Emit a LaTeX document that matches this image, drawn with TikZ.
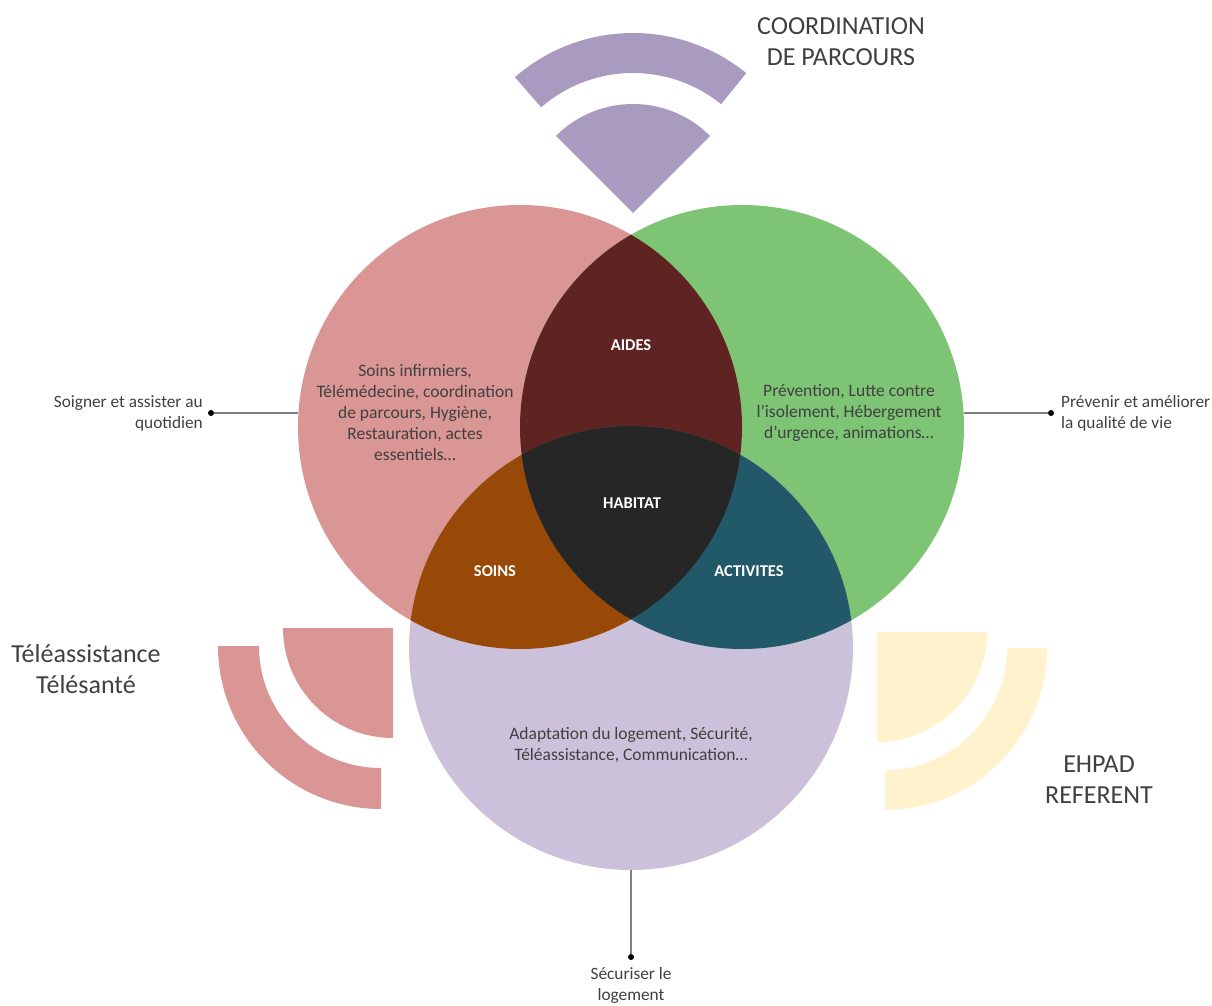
\documentclass[tikz,border=0pt]{standalone}
\usepackage{fontspec}
\setmainfont{Carlito}
\usetikzlibrary{calc}
\definecolor{redC}{HTML}{D99694}
\definecolor{greenC}{HTML}{7DC474}
\definecolor{purpleC}{HTML}{CCC1DA}
\definecolor{iconP}{HTML}{A99AC0}
\definecolor{iconY}{HTML}{FFF2CC}
\definecolor{aidesC}{HTML}{5F2421}
\definecolor{soinsC}{HTML}{984807}
\definecolor{actC}{HTML}{215968}
\definecolor{habC}{HTML}{262626}
\definecolor{txt}{HTML}{404040}
\definecolor{lineC}{HTML}{7F7F7F}
\tikzset{
  big/.style={font=\fontsize{26}{31}\selectfont, text=txt, align=center, inner sep=0},
  body/.style={font=\fontsize{17.5}{21}\selectfont, text=txt, align=center, inner sep=0},
  lbl/.style={font=\fontsize{17.3}{21}\selectfont, text=txt, inner sep=0},
  zone/.style={font=\bfseries\fontsize{16.5}{18}\selectfont, text=white, inner sep=0},
  link/.style={draw=lineC, line width=2pt},
  pin/.style={circle, fill=black, inner sep=0, minimum size=6pt},
  disc/.style={circle, minimum size=444pt, inner sep=0},
}
\begin{document}
\begin{tikzpicture}[x=1pt,y=1pt]
\useasboundingbox (0,0) rectangle (1212,1005);

% the three circles
\node[disc, fill=redC] (red) at (520,578) {};
\node[disc, fill=greenC] (green) at (742,578) {};
\node[disc, fill=purpleC] (purple) at (631,357) {};

% overlaps
\begin{scope}
  \clip (520,578) circle[radius=222];
  \fill[aidesC] (742,578) circle[radius=222];
  \fill[soinsC] (631,357) circle[radius=222];
\end{scope}
\begin{scope}
  \clip (742,578) circle[radius=222];
  \fill[actC] (631,357) circle[radius=222];
  \clip (520,578) circle[radius=222];
  \fill[habC] (631,357) circle[radius=222];
\end{scope}

% top signal icon
\coordinate (ct) at (633,792);
\fill[iconP] (ct) -- ($(ct)+(45:109)$) arc[start angle=45,end angle=135,radius=109] -- cycle;
\fill[iconP] ($(ct)+(51:180)$) arc[start angle=51,end angle=131,radius=180]
  -- ($(ct)+(131:140)$) arc[start angle=131,end angle=51,radius=140] -- cycle;

% left signal icon
\coordinate (cl1) at (393,377);
\coordinate (cl2) at (381,359);
\fill[redC] (cl1) -- ($(cl1)+(180:110)$) arc[start angle=180,end angle=270,radius=110] -- cycle;
\fill[redC] ($(cl2)+(180:163)$) arc[start angle=180,end angle=270,radius=163]
  -- ($(cl2)+(270:122)$) arc[start angle=270,end angle=180,radius=122] -- cycle;

% right signal icon
\coordinate (cr1) at (877,373);
\coordinate (cr2) at (885,357);
\fill[iconY] (cr1) -- ($(cr1)+(270:110)$) arc[start angle=270,end angle=360,radius=110] -- cycle;
\fill[iconY] ($(cr2)+(270:162)$) arc[start angle=270,end angle=360,radius=162]
  -- ($(cr2)+(0:122)$) arc[start angle=360,end angle=270,radius=122] -- cycle;

% connectors
\node[pin] (dl) at (211,592) {};
\node[pin] (dr) at (1051,592) {};
\node[pin] (db) at (631,48) {};
\coordinate (el) at (dl -| red.west);
\coordinate (er) at (dr -| green.east);
\draw[link] (dl) -- (el);
\draw[link] (er) -- (dr);
\draw[link] (purple.south) -- (db);

% zone titles
\node[zone] (aides) at (631,660) {AIDES};
\node[zone] (habitat) at (632,502) {HABITAT};
\node[zone] (soins) at (495,434) {SOINS};
\node[zone] (activites) at (749,434) {ACTIVITES};

% circle contents
\node[body] (tred) at (415,592) {Soins infirmiers,\\Télémédecine, coordination\\de parcours, Hygiène,\\Restauration, actes\\essentiels…};
\node[body] (tgreen) at (849,592) {Prévention, Lutte contre\\l’isolement, Hébergement\\d’urgence, animations…};
\node[body] (tpurple) at (631,260) {Adaptation du logement, Sécurité,\\Téléassistance, Communication…};

% outer labels
\node[lbl, align=right, anchor=east] (ll) at (203,592) {Soigner et assister au\\quotidien};
\node[lbl, align=left, anchor=west] (lr) at (1061,592) {Prévenir et améliorer\\la qualité de vie};
\node[lbl, align=center] (lb) at (631,20) {Sécuriser le\\logement};

\node[big] (coord) at (841,963) {COORDINATION\\DE PARCOURS};
\node[big] (tele) at (86,336) {Téléassistance\\Télésanté};
\node[big] (ehpad) at (1099,225) {EHPAD\\REFERENT};
\end{tikzpicture}
\end{document}
